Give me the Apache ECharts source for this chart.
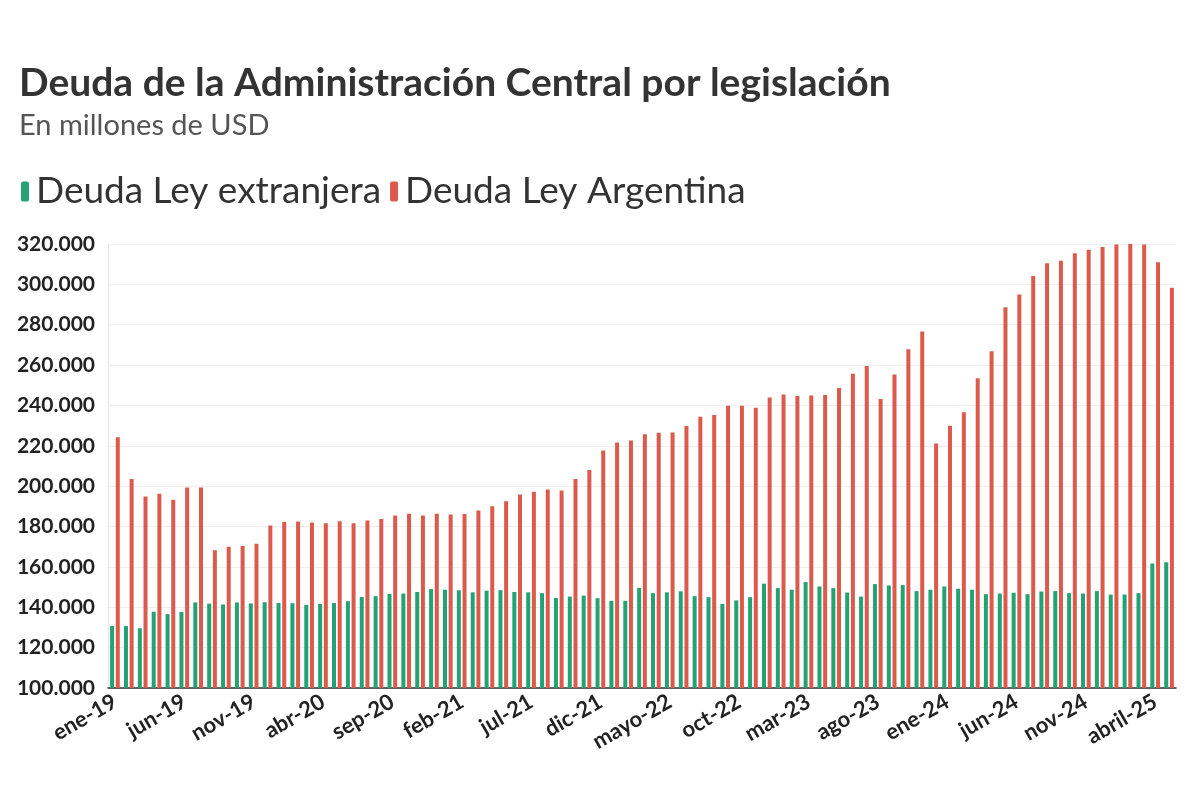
<!DOCTYPE html>
<html>
<head>
<meta charset="utf-8">
<title>Deuda de la Administración Central por legislación</title>
<script src="https://cdn.jsdelivr.net/npm/echarts@6/dist/echarts.min.js"></script>
<style>
  html, body { margin: 0; padding: 0; background: #ffffff; }
  #chart { width: 1200px; height: 800px; }
</style>
</head>
<body>
<div id="chart"></div>
<script>
// meses (ene-19 .. mayo-25)
var months = [
  'ene-19', 'feb-19', 'mar-19', 'abr-19', 'mayo-19', 'jun-19', 'jul-19', 'ago-19', 'sep-19', 'oct-19', 'nov-19', 'dic-19',
  'ene-20', 'feb-20', 'mar-20', 'abr-20', 'mayo-20', 'jun-20', 'jul-20', 'ago-20', 'sep-20', 'oct-20', 'nov-20', 'dic-20',
  'ene-21', 'feb-21', 'mar-21', 'abr-21', 'mayo-21', 'jun-21', 'jul-21', 'ago-21', 'sep-21', 'oct-21', 'nov-21', 'dic-21',
  'ene-22', 'feb-22', 'mar-22', 'abr-22', 'mayo-22', 'jun-22', 'jul-22', 'ago-22', 'sep-22', 'oct-22', 'nov-22', 'dic-22',
  'ene-23', 'feb-23', 'mar-23', 'abr-23', 'mayo-23', 'jun-23', 'jul-23', 'ago-23', 'sep-23', 'oct-23', 'nov-23', 'dic-23',
  'ene-24', 'feb-24', 'mar-24', 'abr-24', 'mayo-24', 'jun-24', 'jul-24', 'ago-24', 'sep-24', 'oct-24', 'nov-24', 'dic-24',
  'ene-25', 'feb-25', 'mar-25', 'abril-25', 'mayo-25'
];

// millones de USD
var leyExtranjera = [
  130700, 130700, 129600, 137800, 136600, 137700, 142400, 141800, 141400, 142400, 141900, 142500,
  142100, 142000, 141200, 141600, 142100, 143000, 145100, 145500, 146600, 146800, 147600, 149000,
  148700, 148400, 147400, 148200, 148500, 147600, 147400, 147000, 144600, 145300, 145800, 144500,
  143200, 143200, 149600, 147000, 147400, 147900, 145500, 145000, 141700, 143400, 145000, 151700,
  149500, 148700, 152500, 150300, 149500, 147300, 145300, 151500, 150800, 151000, 148000, 148700,
  150300, 149200, 148700, 146500, 146800, 147200, 146500, 147800, 148000, 147000, 146800, 148000,
  146300, 146300, 147000, 161700, 162300
];

var leyArgentina = [
  224300, 203500, 194900, 196200, 193300, 199400, 199400, 168200, 170000, 170400, 171500, 180500,
  182300, 182500, 182000, 181600, 182600, 181600, 183000, 183700, 185500, 186300, 185500, 186300,
  186000, 186200, 187900, 190000, 192500, 195900, 197300, 198300, 197800, 203500, 208000, 217700,
  221600, 222600, 225700, 226500, 226600, 229800, 234400, 235300, 239900, 239900, 238900, 244000,
  245400, 244700, 244900, 245200, 248700, 255700, 259600, 243200, 255300, 267800, 276700, 221200,
  230000, 236600, 253500, 266900, 288700, 295000, 304200, 310400, 311700, 315400, 317200, 318500,
  319800, 320000, 319800, 311000, 298300
];

var seriesNames = ['Deuda Ley extranjera', 'Deuda Ley Argentina'];
var seriesColors = ['#22a275', '#dc5a4b'];

function formatThousands(value) {
  return String(Math.round(value)).replace(/\B(?=(\d{3})+(?!\d))/g, '.');
}

var FONT = 'Lato, "Noto Sans", sans-serif';

var chart = echarts.init(document.getElementById('chart'));

chart.setOption({
  backgroundColor: '#ffffff',
  animation: false,
  textStyle: { fontFamily: FONT },
  title: {
    text: 'Deuda de la Administración Central por legislación',
    subtext: 'En millones de USD',
    left: 14,
    top: 59,
    itemGap: 8,
    textStyle: {
      fontFamily: FONT,
      fontSize: 39,
      fontWeight: 'bold',
      color: '#333333'
    },
    subtextStyle: {
      fontFamily: FONT,
      fontSize: 29,
      color: '#555555'
    }
  },
  legend: {
    left: 16,
    top: 168,
    icon: 'roundRect',
    itemWidth: 8,
    itemHeight: 20,
    itemGap: 9,
    textStyle: {
      fontFamily: FONT,
      fontSize: 37,
      color: '#333333',
      padding: [0, 0, 0, 2]
    },
    data: seriesNames
  },
  grid: {
    left: 108,
    right: 24,
    top: 244,
    bottom: 112
  },
  xAxis: {
    type: 'category',
    data: months,
    axisLine: { lineStyle: { color: '#333333', width: 1.5 } },
    axisTick: {
      alignWithLabel: true,
      interval: 0,
      length: 7,
      lineStyle: { color: '#333333' }
    },
    axisLabel: {
      interval: 4,
      rotate: 30,
      margin: 12,
      fontFamily: FONT,
      fontSize: 22,
      fontWeight: 'bold',
      color: '#222222'
    }
  },
  yAxis: {
    type: 'value',
    min: 100000,
    max: 320000,
    interval: 20000,
    axisLine: { show: true, lineStyle: { color: '#e6e6e6' } },
    axisTick: { show: false },
    splitLine: { lineStyle: { color: '#eeeeee' } },
    axisLabel: {
      margin: 13,
      fontFamily: FONT,
      fontSize: 21,
      fontWeight: 'bold',
      color: '#222222',
      formatter: formatThousands
    }
  },
  series: [
    {
      name: seriesNames[0],
      type: 'bar',
      barWidth: 4,
      barGap: '42%',
      itemStyle: { color: seriesColors[0] },
      data: leyExtranjera
    },
    {
      name: seriesNames[1],
      type: 'bar',
      barWidth: 4,
      itemStyle: { color: seriesColors[1] },
      data: leyArgentina
    }
  ]
});
</script>
</body>
</html>
